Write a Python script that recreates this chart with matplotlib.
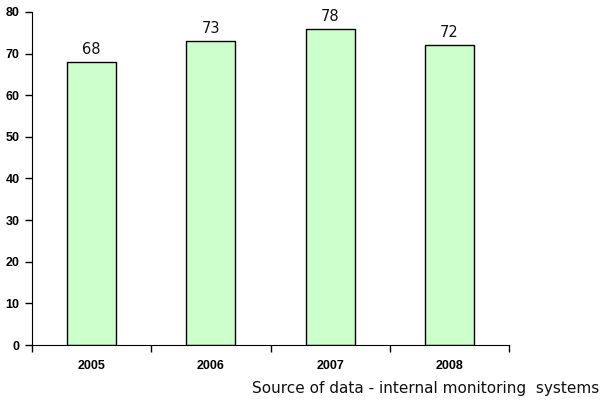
import matplotlib
matplotlib.use('Agg')
import matplotlib.pyplot as plt
import numpy as np

years = ['2005', '2006', '2007', '2008']
heights = [68, 73, 76, 72]
value_labels = ['68', '73', '78', '72']
source_note = 'Source of data - internal monitoring  systems'

fig = plt.figure(figsize=(6.01, 4.01), dpi=100)
ax = fig.add_axes([32 / 601, 56 / 401, 477 / 601, 333 / 401])

x = np.arange(len(years))
ax.bar(x, heights, width=0.41, color='#CCFFCC', edgecolor='black', linewidth=1)

for xi, h, lab in zip(x, heights, value_labels):
    ax.text(xi, h + 1.2, lab, ha='center', va='bottom', fontsize=10.5,
            family='DejaVu Sans', color='#111111')

ax.set_xlim(-0.5, len(years) - 0.5)
ax.set_ylim(0, 80)
yt = list(range(0, 81, 10))
ax.set_yticks(yt)
ax.set_yticklabels([str(v) for v in yt], fontsize=9, fontweight='bold',
                   family='Liberation Sans')

ax.set_xticks(x)
ax.set_xticklabels(years, fontsize=9, fontweight='bold', family='Liberation Sans')
ax.set_xticks(np.arange(-0.5, len(years)), minor=True)
ax.tick_params(axis='x', which='major', length=0, pad=11)
ax.tick_params(axis='x', which='minor', length=5, width=1, direction='out')
ax.tick_params(axis='y', length=5, width=1, pad=4)

ax.spines['top'].set_visible(False)
ax.spines['right'].set_visible(False)

fig.text(599 / 601, 1 - 388 / 401, source_note, ha='right', va='center',
         fontsize=11, family='DejaVu Sans', color='#111111')

fig.savefig('out.png', dpi=100)
